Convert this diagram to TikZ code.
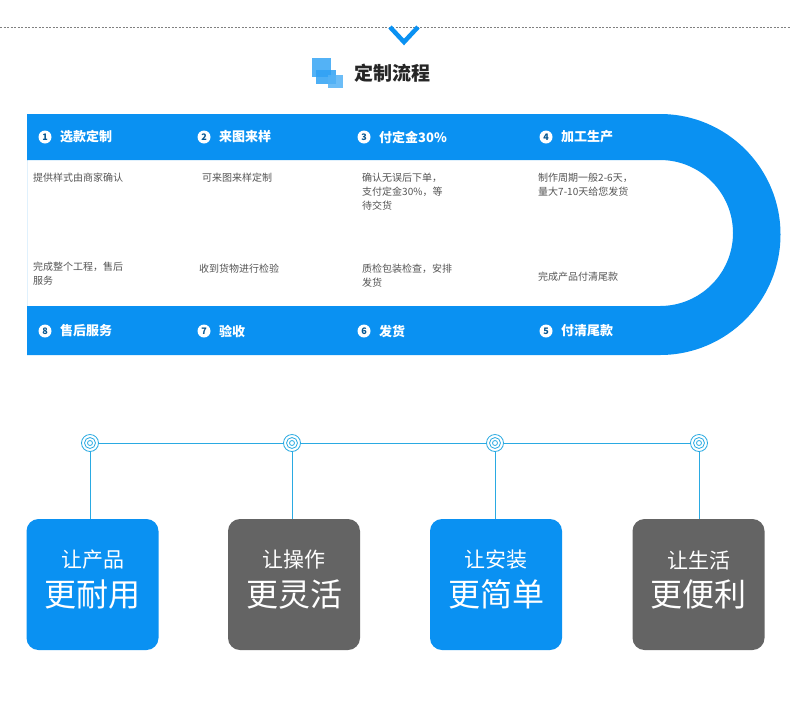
\documentclass[tikz,border=0pt]{standalone}
\usepackage{fontspec}
\setmainfont{Noto Sans CJK SC}
\begin{document}
\definecolor{bl}{HTML}{0A91F2}
\definecolor{gr}{HTML}{646464}
\definecolor{ln}{HTML}{2AAAE2}
\definecolor{tx}{HTML}{555555}
\begin{tikzpicture}[x=1pt,y=-1pt,
  num/.style={circle,fill=white,inner sep=0pt,minimum size=13pt,font=\bfseries\fontsize{9}{9}\selectfont,text=bl!60!black},
  stp/.style={anchor=west,text=white,font=\bfseries\fontsize{13}{13}\selectfont,inner sep=0pt},
  desc/.style={anchor=north west,text=tx,font=\fontsize{10}{14}\selectfont,align=left,inner sep=0pt},
  ring/.style={circle,draw=ln,line width=0.8pt,minimum size=#1,inner sep=0pt},
  box/.style={rounded corners=12pt,minimum width=132pt,minimum height=131pt,inner sep=0pt},
  l1/.style={text=white,font=\fontsize{21}{21}\selectfont,inner sep=0pt},
  l2/.style={text=white,font=\fontsize{32}{32}\selectfont,inner sep=0pt}]
\useasboundingbox (0,0) rectangle (790,710);
\fill[white] (0,0) rectangle (790,710);
\draw[gray,dashed,line width=0.6pt,dash pattern=on 2pt off 1.5pt] (0,27) -- (790,27);
\draw[bl,line width=4.5pt] (390,27) -- (404,42) -- (418,27);
% title
\fill[bl!70] (312,58) rectangle (331,77);
\fill[bl!85,opacity=0.85] (316,70) rectangle (336,84);
\fill[bl!70,opacity=0.85] (328,75) rectangle (343,88);
\node[anchor=west,font=\bfseries\fontsize{19}{19}\selectfont,text=black!85,inner sep=0pt] (title) at (354,73) {定制流程};
% band
\fill[bl,even odd rule] (27,114) -- (660,114) arc[start angle=-90,end angle=90,radius=120.5] -- (27,355) -- cycle
 (27,160) -- (660,160) arc[start angle=-90,end angle=90,radius=73] -- (27,306) -- cycle;
\foreach \x/\n/\t/\nm in {45/1/选款定制/a,204/2/来图来样/b,364/3/付定金30\%/c,546/4/加工生产/d}{
  \node[num] (n\nm) at (\x,137) {\n};
  \node[stp] (s\nm) at (\x+15,137) {\t};}
\foreach \x/\n/\t/\nm in {45/8/售后服务/h,204/7/验收/g,364/6/发货/f,546/5/付清尾款/e}{
  \node[num] (n\nm) at (\x,331) {\n};
  \node[stp] (s\nm) at (\x+15,331) {\t};}
\node[desc] (d1) at (33,173) {提供样式由商家确认};
\node[desc] (d2) at (202,173) {可来图来样定制};
\node[desc] (d3) at (362,173) {确认无误后下单，\\支付定金30\%，等\\待交货};
\node[desc] (d4) at (538,173) {制作周期一般2-6天，\\量大7-10天给您发货};
\node[desc] (d5) at (33,262) {完成整个工程，售后\\服务};
\node[desc] (d6) at (199,264) {收到货物进行检验};
\node[desc] (d7) at (362,264) {质检包装检查，安排\\发货};
\node[desc] (d8) at (538,272) {完成产品付清尾款};
% bottom
\foreach \x/\c/\a/\b/\nm in {92.5/bl/让产品/更耐用/p,294/gr/让操作/更灵活/q,496/bl/让安装/更简单/r,698.5/gr/让生活/更便利/s}{
  \node[box,fill=\c] (b\nm) at (\x,584.5) {};
  \node[l1] at (\x,560) {\a};
  \node[l2] at (\x,594) {\b};
}
\foreach \x/\nm in {90/p,292/q,495/r,699/s}{
  \node[ring=17pt] (c\nm) at (\x,443) {};
  \node[ring=11pt] at (\x,443) {};
  \node[ring=5pt] at (\x,443) {};
  \draw[ln,line width=0.8pt] (c\nm.south) -- (c\nm.south |- b\nm.north);
}
\draw[ln,line width=0.8pt] (cp.east) -- (cq.west) (cq.east) -- (cr.west) (cr.east) -- (cs.west);
\end{tikzpicture}
\end{document}
